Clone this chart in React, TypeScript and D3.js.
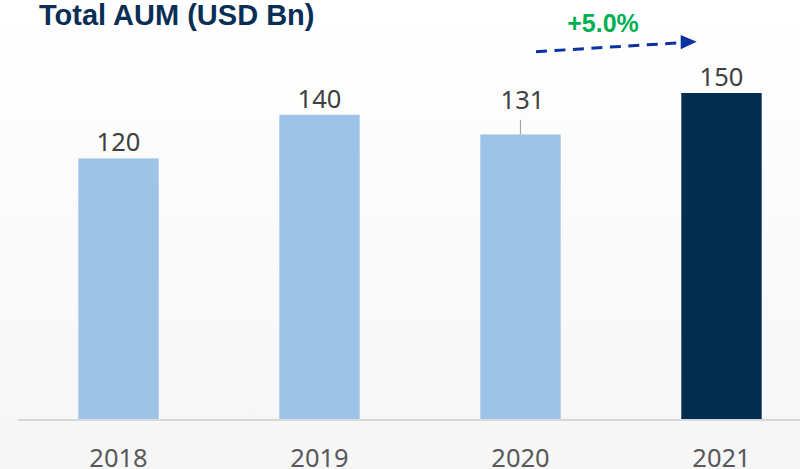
import React from "react";
import * as d3 from "d3";

const categories: string[] = ["2018", "2019", "2020", "2021"];
const values: number[] = [120, 140, 131, 150];
const highlight: boolean[] = [false, false, false, true];
const leaderLine: boolean[] = [false, false, true, false];
const title = "Total AUM (USD Bn)";
const growthLabel = "+5.0%";

const W = 800;
const H = 469;

export default function App() {
  const x = d3.scaleBand<string>().domain(categories).range([18, 822]).paddingInner(0.6).paddingOuter(0.3);
  const y = d3.scaleLinear().domain([0, 150]).range([420, 93]);
  const baseY = y(0);
  const bw = x.bandwidth();

  const arrowStart: [number, number] = [536, 51.7];
  const arrowEnd: [number, number] = [681, 42.7];

  return (
    <div style={{ position: "fixed", left: 0, top: 0 }}>
      <svg width={W} height={H} style={{ display: "block" }}>
        <defs>
          <linearGradient id="bg" x1="0" y1="0" x2="0" y2="1">
            <stop offset="0" stopColor="#ffffff" />
            <stop offset="1" stopColor="#f6f6f6" />
          </linearGradient>
        </defs>
        <rect x={0} y={0} width={W} height={H} fill="url(#bg)" />
        <text x={39} y={25} fontFamily="'Liberation Sans', Arial, sans-serif" fontWeight="bold" fontSize={29} fill="#0a2f57">
          {title}
        </text>
        {categories.map((c, i) => {
          const x0 = x(c)!;
          const top = y(values[i]);
          const cx = x0 + bw / 2;
          const labelY = leaderLine[i] ? top - 25 : top - 7;
          return (
            <g key={c}>
              <rect x={x0} y={top} width={bw} height={baseY - top} fill={highlight[i] ? "#022d4e" : "#9dc3e6"} />
              {leaderLine[i] && (
                <line x1={cx} x2={cx} y1={top - 14.5} y2={top} stroke="#a6a6a6" strokeWidth={1.2} />
              )}
              <text x={cx + (leaderLine[i] ? 2 : 0)} y={labelY} textAnchor="middle" fontFamily="'Noto Sans', sans-serif" fontSize={25.5} fill="#404040">
                {values[i]}
              </text>
              <text x={cx} y={466.5} textAnchor="middle" fontFamily="'Noto Sans', sans-serif" fontSize={25.5} fill="#595959">
                {c}
              </text>
            </g>
          );
        })}
        <line x1={18} x2={W} y1={baseY} y2={baseY} stroke="#d9d9d9" strokeWidth={2} />
        <line
          x1={arrowStart[0]}
          y1={arrowStart[1]}
          x2={arrowEnd[0]}
          y2={arrowEnd[1]}
          stroke="#0b32a0"
          strokeWidth={3}
          strokeDasharray="11 7.5"
        />
        <polygon points="680.7,35 696.7,41.7 680.7,49.3" fill="#0b32a0" />
        <text x={603} y={32} textAnchor="middle" fontFamily="'Liberation Sans', Arial, sans-serif" fontWeight="bold" fontSize={25} fill="#00b050">
          {growthLabel}
        </text>
      </svg>
    </div>
  );
}
